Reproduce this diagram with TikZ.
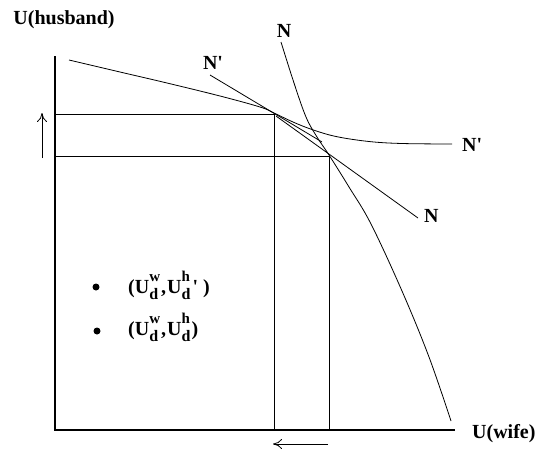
\documentclass[tikz,border=0pt]{standalone}
\usepackage{fontspec}
\setmainfont{Liberation Serif}[Ligatures=TeXOff]
\usetikzlibrary{arrows.meta}
\newcommand{\Udx}[1]{U\makebox[0pt][l]{\raisebox{12pt}{\fontsize{15}{15}\selectfont #1}}\raisebox{-6.5pt}{\fontsize{16}{16}\selectfont d}}
\begin{document}
\begin{tikzpicture}[x=1pt,y=-1pt,
  axisline/.style={line width=1.1pt},
  thinline/.style={line width=0.8pt},
  lbl/.style={font=\fontsize{20}{22}\selectfont\bfseries, inner sep=0pt},
  ptlbl/.style={font=\fontsize{20}{22}\selectfont\bfseries, inner sep=0pt, anchor=base west},
  dotmark/.style={circle, fill=black, inner sep=0pt, minimum size=7pt},
  moveArrow/.style={line width=0.8pt, -{To[length=9pt,width=10pt]}}
]
\useasboundingbox (0,0) rectangle (539,448);
% key points
\coordinate (O) at (55,430);
\coordinate (Ytop) at (55,56);
\coordinate (Xend) at (455,430);
\coordinate (A) at (274,114);
\coordinate (B) at (329,156);
\coordinate (Ay) at (55,114);
\coordinate (By) at (55,156);
\coordinate (Ax) at (274,430);
\coordinate (Bx) at (329,430);
% axes
\draw[axisline] (Ytop) -- (O) -- (Xend);
% guide lines
\draw[thinline] (Ay) -- (A) -- (Ax);
\draw[thinline] (By) -- (B) -- (Bx);
% arrows
\coordinate (upS) at (42,158);
\coordinate (upE) at (42,113);
\draw[moveArrow] (upS) -- (upE);
\coordinate (lfS) at (328,444);
\coordinate (lfE) at (273,444);
\draw[moveArrow] (lfS) -- (lfE);
% curve N'
\draw[thinline] plot[smooth, tension=0.6] coordinates {(69,60) (120,72) (167,83) (220,96) (260,107) (274,113) (293,122) (312,129.5) (336,136.5) (369,141.5) (402,143.5) (452,144)};
% curve N
\draw[thinline] plot[smooth, tension=0.6] coordinates {(281,42) (294,83) (306,117) (317,137) (329,155) (349,187) (371,224) (402,291) (429,357) (451,421)};
% tangent lines
\coordinate (tNpS) at (210,75);
\coordinate (tNpE) at (322,142);
\draw[thinline] (tNpS) -- (tNpE);
\coordinate (tNS) at (276,116);
\coordinate (tNE) at (418,218);
\draw[thinline] (tNS) -- (tNE);
% labels
\node[lbl] (lh) at (64,20) {U(husband)};
\node[lbl, anchor=west] (lw) at (472,434) {U(wife)};
\node[lbl] (nptop) at (213,63) {N'};
\node[lbl] (ntop) at (284,31) {N};
\node[lbl, anchor=west] (npr) at (462,145) {N'};
\node[lbl, anchor=west] (nr) at (424,216) {N};
% points legend
\node[dotmark] (d1) at (96,287) {};
\node[dotmark] (d2) at (97,331) {};
\node[ptlbl] (t1) at (128,293) {(\Udx{w}\kern3pt,\kern1pt\Udx{h}\kern2pt'\kern5pt)};
\node[ptlbl] (t2) at (128,335) {(\Udx{w}\kern3pt,\kern1pt\Udx{h}\kern1pt)};
\end{tikzpicture}
\end{document}
